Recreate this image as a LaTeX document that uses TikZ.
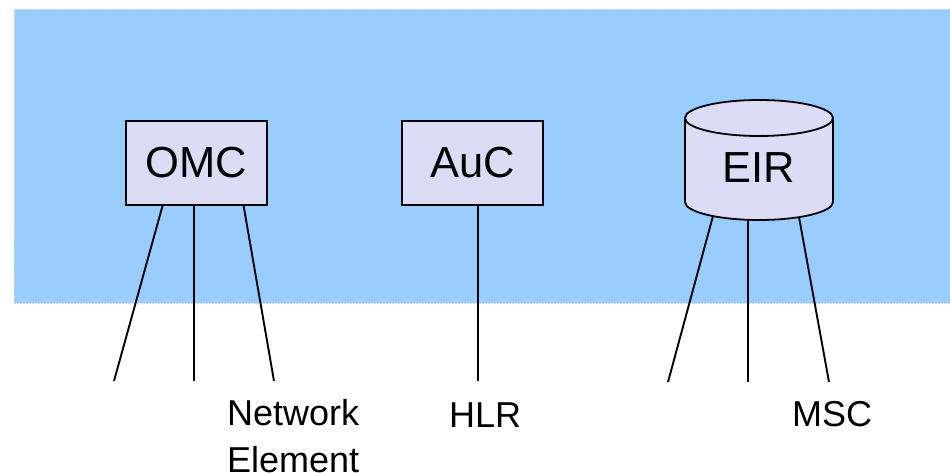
\documentclass[tikz,border=0pt]{standalone}
\usepackage{fontspec}
\setmainfont{Liberation Sans}
\usetikzlibrary{calc}
\definecolor{bgblue}{RGB}{153,204,255}
\definecolor{boxfill}{RGB}{220,220,246}
\definecolor{edgeline}{RGB}{214,214,244}
\begin{document}
\begin{tikzpicture}[x=1pt,y=-1pt,
  box/.style={draw=black,line width=1.8pt,fill=boxfill,minimum width=141pt,minimum height=84pt,inner sep=0pt,font=\fontsize{43.5}{50}\selectfont},
  boxtext/.style={inner sep=0pt,font=\fontsize{43.5}{50}\selectfont},
  link/.style={line width=1.9pt,draw=black},
  lbl/.style={inner sep=0pt,font=\fontsize{36}{47}\selectfont,anchor=base west}]
\useasboundingbox (0,0) rectangle (950,473);
\fill[bgblue] (14,9) rectangle (950,303);
\draw[edgeline,line width=0.6pt,dash pattern=on 1.5pt off 1.5pt] (14,303) -- (14,9) -- (950,9);
\draw[edgeline,line width=0.6pt,dash pattern=on 1.5pt off 1.5pt] (14,303) -- (950,303);
% boxes
\node[box] (omc) at (196.5,163) {OMC};
\node[box] (auc) at (472.5,163) {AuC};
% cylinder
\fill[boxfill] (685,118) -- (685,202) arc[start angle=180,end angle=0,x radius=74,y radius=18] -- (833,118) arc[start angle=0,end angle=-180,x radius=74,y radius=18] -- cycle;
\draw[line width=1.8pt] (685,118) -- (685,202) arc[start angle=180,end angle=0,x radius=74,y radius=18] -- (833,118);
\draw[line width=1.8pt] (759,118) ellipse [x radius=74,y radius=18];
\node[boxtext] (eir) at (759,168) {EIR};
% free ends
\coordinate (o1) at (114,381);
\coordinate (o2) at (194,381);
\coordinate (o3) at (274,381);
\coordinate (a1) at (478,381);
\coordinate (e1) at (668,382);
\coordinate (e2) at (748,382);
\coordinate (e3) at (829,382);
% connectors
\draw[link] ($(omc.south west)!0.262!(omc.south east)$) -- (o1);
\draw[link] (omc.south -| o2) -- (o2);
\draw[link] ($(omc.south west)!0.83!(omc.south east)$) -- (o3);
\draw[link] (auc.south -| a1) -- (a1);
\draw[link] ($(eir)+(-46,48)$) -- (e1);
\draw[link] ($(eir)+(-11,52)$) -- (e2);
\draw[link] ($(eir)+(40,49)$) -- (e3);
% labels
\node[lbl,align=left] (ne) at (227,472) {Network\\Element};
\node[lbl] (hlr) at (449,427) {HLR};
\node[lbl] (msc) at (792,426) {MSC};
\end{tikzpicture}
\end{document}
